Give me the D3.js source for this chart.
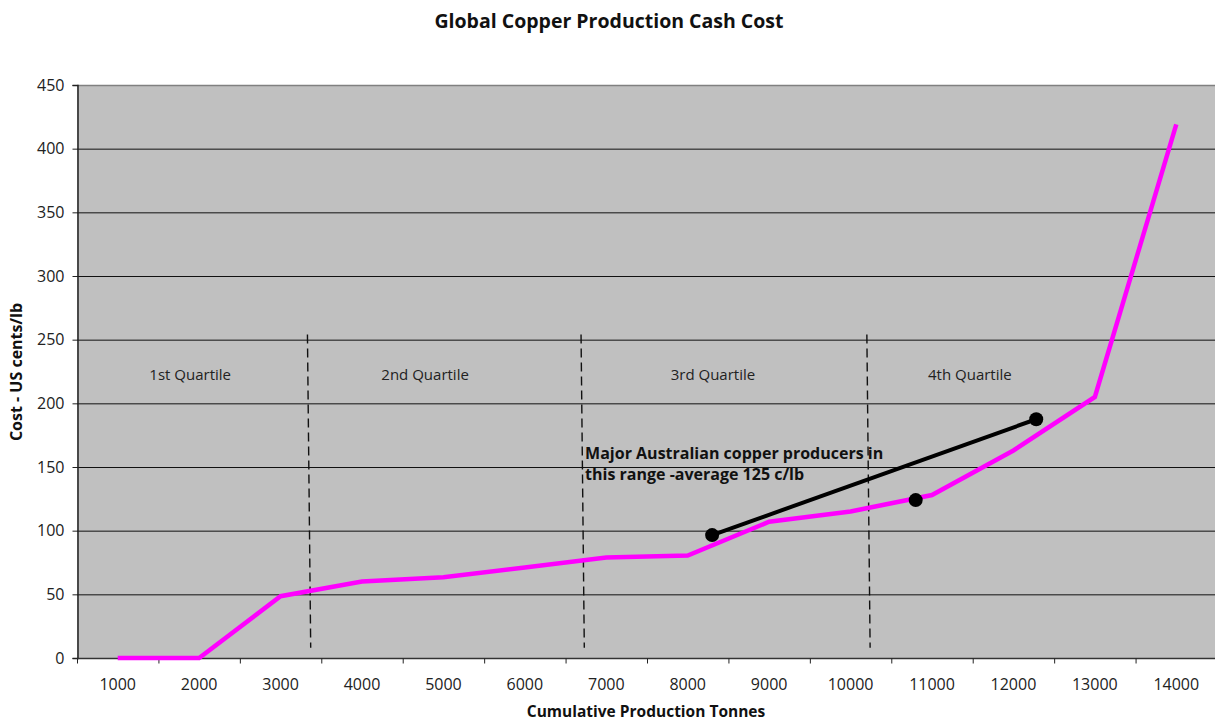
<!DOCTYPE html>
<html><head><meta charset="utf-8">
<script src="https://cdn.jsdelivr.net/npm/d3@7"></script>
<style>
html,body{margin:0;padding:0;background:#fff;}
svg{display:block;font-family:"Open Sans",sans-serif;}
</style></head>
<body>
<svg id="chart" width="1215" height="722"></svg>
<script>
const categories = [1000,2000,3000,4000,5000,6000,7000,8000,9000,10000,11000,12000,13000,14000];
const cashCost = [0,0,48.5,60,63.5,71,79,80.5,107,115,128,163,205,419];
const yTicks = [0,50,100,150,200,250,300,350,400,450];
const quartileLabels = ["1st Quartile","2nd Quartile","3rd Quartile","4th Quartile"];
const quartileLabelX = [1890,4775,8310,11465];
const quartileLabelY = 218.5;
const dividerTopX = [3330,6690,10200];
const dividerBottomX = [3370,6730,10240];
const dividerTopY = 254;
const dividerBottomY = 8;
const producerX = [8300,10800,12280];
const producerY = [96.5,124,187.5];
const annotationLines = ["Major Australian copper producers in","this range -average 125 c/lb"];
const annotationX = 6740;
const annotationY = [156,139.5];

const svg = d3.select("#chart");
const L = 77, R = 1217, T = 85, B = 658;
const x = d3.scaleLinear().domain([500,14500]).range([L,R]);
const y = d3.scaleLinear().domain([0,450]).range([B,T]);

// title
svg.append("text").attr("x",609).attr("y",28).attr("text-anchor","middle")
  .attr("font-size",19.5).attr("font-weight","bold").attr("fill","#111").text("Global Copper Production Cash Cost");

// plot background
svg.append("rect").attr("x",L).attr("y",T).attr("width",R-L).attr("height",B-T).attr("fill","#c0c0c0");

// gridlines
svg.append("g").selectAll("line").data(yTicks.filter(d=>d>0 && d<450)).join("line")
  .attr("x1",L).attr("x2",R).attr("y1",d=>y(d)+0.5).attr("y2",d=>y(d)+0.5)
  .attr("stroke","#111").attr("stroke-width",1);
svg.append("line").attr("x1",L).attr("x2",R).attr("y1",T+0.5).attr("y2",T+0.5)
  .attr("stroke","#808080").attr("stroke-width",1.5);

// y axis
const yAxis = d3.axisLeft(y).tickValues(yTicks).tickSize(5).tickPadding(8);
const gy = svg.append("g").attr("transform",`translate(${L+0.5},0)`).call(yAxis);
gy.select(".domain").attr("stroke","#222").attr("stroke-width",1.5);
gy.selectAll(".tick line").attr("stroke","#222");
gy.selectAll("text").attr("font-size",16).attr("font-family","Open Sans").attr("fill","#222");

// x axis: tick marks between categories, labels at categories
const tickMarks = categories.map(c=>c-500).concat([14500]);
const gx = svg.append("g").attr("transform",`translate(0,${B+0.5})`);
gx.append("line").attr("x1",L).attr("x2",R).attr("stroke","#333").attr("stroke-width",1.5);
gx.selectAll("line.tk").data(tickMarks).join("line").attr("class","tk")
  .attr("x1",d=>x(d)+0.5).attr("x2",d=>x(d)+0.5).attr("y1",0).attr("y2",5).attr("stroke","#222");
gx.selectAll("text").data(categories).join("text")
  .attr("x",d=>x(d)).attr("y",31).attr("text-anchor","middle")
  .attr("font-size",16).attr("fill","#222").text(d=>d);

// axis titles
svg.append("text").attr("x",646).attr("y",717).attr("text-anchor","middle")
  .attr("font-size",15.5).attr("font-weight","bold").attr("fill","#111").text("Cumulative Production Tonnes");
svg.append("text").attr("transform","translate(22,372) rotate(-90)").attr("text-anchor","middle")
  .attr("font-size",16).attr("font-weight","bold").attr("fill","#111").text("Cost - US cents/lb");

// quartile dividers
svg.append("g").selectAll("line").data(dividerTopX).join("line")
  .attr("x1",d=>x(d)).attr("x2",(d,i)=>x(dividerBottomX[i]))
  .attr("y1",y(dividerTopY)).attr("y2",y(dividerBottomY))
  .attr("stroke","#111").attr("stroke-width",1.4).attr("stroke-dasharray","9,5");

// quartile labels
svg.append("g").selectAll("text").data(quartileLabels).join("text")
  .attr("x",(d,i)=>x(quartileLabelX[i])).attr("y",y(quartileLabelY)).attr("text-anchor","middle")
  .attr("font-size",15).attr("fill","#222").text(d=>d);

// cost curve
const line = d3.line().x((d,i)=>x(categories[i])).y(d=>y(d));
svg.append("path").datum(cashCost).attr("d",line).attr("fill","none")
  .attr("stroke","#ff00ff").attr("stroke-width",4.5).attr("stroke-linejoin","miter");

// annotation
svg.append("g").selectAll("text").data(annotationLines).join("text")
  .attr("x",x(annotationX)).attr("y",(d,i)=>y(annotationY[i]))
  .attr("font-size",16).attr("font-weight","bold").attr("fill","#111").text(d=>d);

// producers range line and dots
svg.append("line").attr("x1",x(producerX[0])).attr("y1",y(producerY[0]))
  .attr("x2",x(producerX[2])).attr("y2",y(producerY[2]))
  .attr("stroke","#000").attr("stroke-width",4);
svg.append("g").selectAll("circle").data(producerX).join("circle")
  .attr("cx",d=>x(d)).attr("cy",(d,i)=>y(producerY[i])).attr("r",7).attr("fill","#000");
</script>
</body></html>
